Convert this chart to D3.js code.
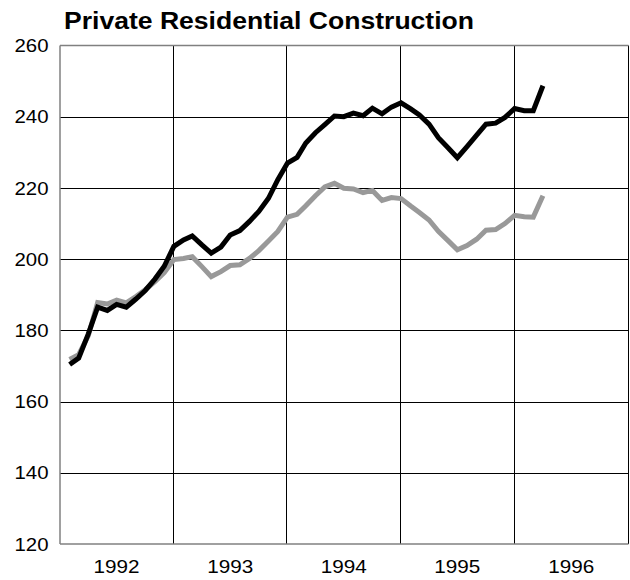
<!DOCTYPE html>
<html>
<head>
<meta charset="utf-8">
<script src="https://cdn.jsdelivr.net/npm/d3@7"></script>
<style>
  body { margin: 0; background: #fff; }
  text { font-family: "Liberation Sans", Arial, sans-serif; }
</style>
</head>
<body>
<div id="root"></div>
<script>

// monthly series, first point is Jan 1992, last is Mar 1996
const startMonth = new Date(1992, 0, 1)

const blackValues = [
  170.4, 172.2, 179.0, 186.5, 185.6, 187.3, 186.5, 188.8, 191.2, 194.4, 198.0, 203.6,
  205.4, 206.5, 204.0, 201.7, 203.4, 206.8, 208.0, 210.6, 213.4, 217.1, 222.3, 227.0,
  228.6, 232.6, 235.5, 237.8, 240.2, 240.0, 241.0, 240.3, 242.4, 240.8, 242.7, 243.9,
  242.2, 240.5, 237.9, 234.1, 231.3, 228.5, 231.6, 234.8, 237.9, 238.2, 239.8, 242.3,
  241.7, 241.7, 248.7
]

const grayValues = [
  171.8, 173.2, 178.5, 187.8, 187.4, 188.5, 187.7, 189.5, 191.4, 193.7, 196.2, 199.9,
  200.2, 200.7, 197.9, 195.1, 196.5, 198.2, 198.4, 200.2, 202.4, 205.1, 207.8, 211.8,
  212.6, 215.0, 217.8, 220.3, 221.3, 219.9, 219.7, 218.7, 219.3, 216.5, 217.3, 217.0,
  214.9, 213.1, 211.0, 207.8, 205.2, 202.6, 203.8, 205.6, 208.1, 208.3, 210.0, 212.3,
  211.9, 211.8, 217.8
]

const yearLabels = [1992, 1993, 1994, 1995, 1996]
const yTicks = [120, 140, 160, 180, 200, 220, 240, 260]
const title = "Private Residential Construction"

const width = 630, height = 580
const margin = {top: 45.5, right: 1.5, bottom: 36, left: 60}

const svg = d3.select("#root").append("svg")
  .attr("width", width)
  .attr("height", height)

const x = d3.scaleTime()
  .domain([new Date(yearLabels[0], 0, 1), new Date(yearLabels[yearLabels.length - 1] + 1, 0, 1)])
  .range([margin.left, width - margin.right])

const y = d3.scaleLinear()
  .domain([120, 260])
  .range([height - margin.bottom, margin.top])

// each point sits at the end of its month
const toPoints = values => values.map((v, i) => ({
  date: d3.timeMonth.offset(startMonth, i + 1),
  value: v
}))

// horizontal grid
svg.append("g")
  .selectAll("line")
  .data(yTicks.filter(t => t > 120 && t < 260))
  .join("line")
  .attr("x1", margin.left)
  .attr("x2", width - margin.right)
  .attr("y1", d => Math.round(y(d)) + 0.5)
  .attr("y2", d => Math.round(y(d)) + 0.5)
  .attr("stroke", "#000")
  .attr("stroke-width", 1)

// vertical grid at year boundaries (last one closes the frame on the right)
const yearStarts = yearLabels.slice(1).map(yr => new Date(yr, 0, 1))
svg.append("g")
  .selectAll("line")
  .data(yearStarts.concat([new Date(yearLabels[yearLabels.length - 1] + 1, 0, 1)]))
  .join("line")
  .attr("x1", d => Math.round(x(d)) - 0.5)
  .attr("x2", d => Math.round(x(d)) - 0.5)
  .attr("y1", margin.top)
  .attr("y2", height - margin.bottom)
  .attr("stroke", "#000")
  .attr("stroke-width", 1)

// frame: left, top, bottom in gray
const frame = svg.append("g").attr("stroke", "#808080").attr("stroke-width", 1.5)
frame.append("line")
  .attr("x1", margin.left).attr("x2", margin.left)
  .attr("y1", margin.top).attr("y2", height - margin.bottom)
frame.append("line")
  .attr("x1", margin.left).attr("x2", width - margin.right)
  .attr("y1", margin.top).attr("y2", margin.top)
frame.append("line")
  .attr("x1", margin.left).attr("x2", width - margin.right)
  .attr("y1", height - margin.bottom).attr("y2", height - margin.bottom)

// y labels (the original font is a bit wider than Arial)
svg.append("g")
  .selectAll("text")
  .data(yTicks)
  .join("text")
  .attr("x", 48.5)
  .attr("y", d => y(d))
  .attr("dy", "0.36em")
  .attr("text-anchor", "end")
  .attr("font-size", 18.5)
  .attr("textLength", 34)
  .attr("lengthAdjust", "spacingAndGlyphs")
  .text(d => d)

// year labels, centred in each year band
svg.append("g")
  .selectAll("text")
  .data(yearLabels)
  .join("text")
  .attr("x", d => x(new Date(d, 6, 1)))
  .attr("y", 573)
  .attr("text-anchor", "middle")
  .attr("font-size", 18.5)
  .attr("textLength", 46)
  .attr("lengthAdjust", "spacingAndGlyphs")
  .text(d => d)

const line = d3.line()
  .x(d => x(d.date))
  .y(d => y(d.value))

svg.append("path")
  .datum(toPoints(grayValues))
  .attr("d", line)
  .attr("fill", "none")
  .attr("stroke", "#999999")
  .attr("stroke-width", 5)

svg.append("path")
  .datum(toPoints(blackValues))
  .attr("d", line)
  .attr("fill", "none")
  .attr("stroke", "#000")
  .attr("stroke-width", 5)

svg.append("text")
  .attr("x", 64)
  .attr("y", 28.5)
  .attr("font-size", 23)
  .attr("font-weight", "bold")
  .attr("textLength", 410)
  .attr("lengthAdjust", "spacingAndGlyphs")
  .text(title)

</script>
</body>
</html>
